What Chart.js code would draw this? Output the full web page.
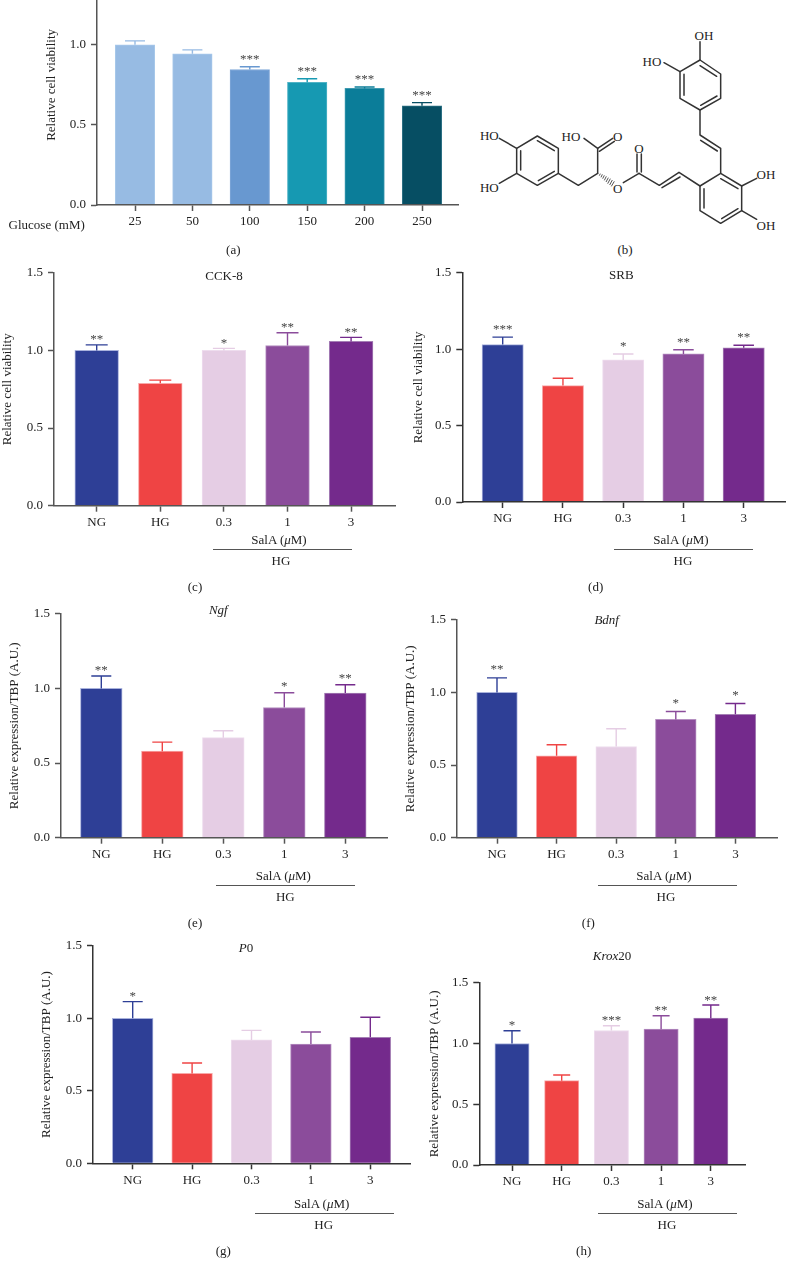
<!DOCTYPE html>
<html>
<head>
<meta charset="utf-8">
<script src="https://cdn.jsdelivr.net/npm/chart.js@4/dist/chart.umd.min.js"></script>
<style>
  html, body { margin: 0; padding: 0; background: #fff; }
  body { position: relative; width: 786px; height: 1269px; overflow: hidden; font-family: "Liberation Serif", serif; color: #222; }
  canvas { position: absolute; }
  .txt { position: absolute; transform: translate(-50%, -50%); font-size: 13px; white-space: nowrap; }
  .rule { position: absolute; height: 1.5px; background: #555; }
  svg { position: absolute; }
</style>
</head>
<body>

<!-- (b) structure -->
<svg style="left:460px;top:0" width="326" height="260" viewBox="0 0 978 780">
  <g fill="none" stroke="#333" stroke-width="4.5" stroke-linecap="round" stroke-linejoin="round">
    <path d="M720 180L782 222V295L720 330L660 295V215Z"/>
    <path d="M720 197L770 229M771 288L722 316M672 286V223"/>
    <path d="M720 180V125M660 215L612 188"/>
    <path d="M720 330V405L782 445V520"/>
    <path d="M722 421L772 453"/>
    <path d="M782 520L845 558V632L782 670L720 632V558Z"/>
    <path d="M782 536L834 566M834 626L785 656M732 624V566"/>
    <path d="M845 558L890 535M845 632L890 658"/>
    <path d="M720 558L657 517L598 556L537 520"/>
    <path d="M660 531L606 563"/>
    <path d="M531 516V462M544 516V462"/>
    <path d="M537 520L490 548"/>
    <path d="M413 520L355 556L295 520"/>
    <path d="M413 520V445L372 415"/>
    <path d="M413 445L458 415M418 454L463 424"/>
    <path d="M295 520V445L232 408L170 445V520L232 556Z"/>
    <path d="M232 422L283 452M283 514L235 542M182 510V452"/>
    <path d="M170 445L118 415M170 520L118 550"/>
  </g>
  <g stroke="#333" stroke-width="2.5">
    <path d="M421 521L418 527M427 523L423 532M433 526L428 536M439 529L433 541M445 533L438 546M451 536L443 551M457 540L449 555M463 544L454 559"/>
  </g>
  <g font-size="39" fill="#222" text-anchor="middle" dominant-baseline="central" font-family="Liberation Serif">
    <text x="732" y="105">OH</text>
    <text x="576" y="183">HO</text>
    <text x="918" y="523">OH</text>
    <text x="918" y="675">OH</text>
    <text x="537" y="445">O</text>
    <text x="473" y="565">O</text>
    <text x="333" y="408">HO</text>
    <text x="473" y="408">O</text>
    <text x="88" y="407">HO</text>
    <text x="88" y="562">HO</text>
  </g>
</svg>

<script>
// Chart values

const glucose = ['25', '50', '100', '150', '200', '250'];
const groups = ['NG', 'HG', '0.3', '1', '3'];

// value = bar height, upper = top of the error bar
const viabilityValues = [1.0, 0.944, 0.846, 0.766, 0.728, 0.62];
const viabilityUpper  = [1.025, 0.969, 0.863, 0.788, 0.737, 0.639];
const viabilityStars  = ['', '', '***', '***', '***', '***'];

const cckValues = [1.0, 0.788, 1.0, 1.032, 1.058];
const cckUpper  = [1.036, 0.809, 1.013, 1.114, 1.084];
const cckStars  = ['**', '', '*', '**', '**'];

const srbValues = [1.03, 0.762, 0.93, 0.969, 1.009];
const srbUpper  = [1.079, 0.81, 0.969, 0.996, 1.026];
const srbStars  = ['***', '', '*', '**', '**'];

const ngfValues = [1.0, 0.58, 0.67, 0.872, 0.969];
const ngfUpper  = [1.083, 0.64, 0.717, 0.971, 1.025];
const ngfStars  = ['**', '', '', '*', '**'];

const bdnfValues = [1.0, 0.564, 0.628, 0.814, 0.849];
const bdnfUpper  = [1.10, 0.64, 0.75, 0.869, 0.924];
const bdnfStars  = ['**', '', '', '*', '*'];

const p0Values = [1.0, 0.62, 0.851, 0.823, 0.869];
const p0Upper  = [1.115, 0.692, 0.917, 0.906, 1.007];
const p0Stars  = ['*', '', '', '', ''];

const kroxValues = [1.0, 0.694, 1.107, 1.118, 1.209];
const kroxUpper  = [1.105, 0.741, 1.146, 1.229, 1.317];
const kroxStars  = ['*', '', '***', '**', '**'];

const yTicks = [0, 0.5, 1.0, 1.5];

// Colours
const glucoseColors = ['#97bbe3', '#97bbe3', '#6898d0', '#1699b2', '#0b7d99', '#064e63'];
const glucoseEdges  = ['#a8c8ea', '#a8c8ea', '#80a8d8', '#4fb3c6', '#3f9ab0', '#2f7285'];
const groupColors   = ['#2e3f96', '#ef4444', '#e5cde4', '#8b4c9b', '#742a8c'];
const groupEdges    = ['#a9b2dc', '#f8a8a8', '#eeddee', '#b48ec0', '#a57fb5'];

Chart.defaults.font.family = '"Liberation Serif", serif';
Chart.defaults.font.size = 13;
Chart.defaults.color = '#222';

// Error bars and significance stars, placed through the chart's own scales
const errorBarPlugin = {
  id: 'errorBars',
  afterDatasetsDraw(chart, args, opts) {
    const { ctx, scales: { x, y } } = chart;
    ctx.save();
    opts.upper.forEach((top, i) => {
      const px = x.getPixelForValue(i);
      const yTop = y.getPixelForValue(top);
      const yBar = y.getPixelForValue(opts.values[i]);
      ctx.strokeStyle = opts.colors[i];
      ctx.lineWidth = 1.4;
      ctx.beginPath();
      ctx.moveTo(px, yBar);
      ctx.lineTo(px, yTop);
      ctx.moveTo(px - opts.capWidth / 2, yTop);
      ctx.lineTo(px + opts.capWidth / 2, yTop);
      ctx.stroke();
      if (opts.stars[i]) {
        ctx.fillStyle = '#444';
        ctx.font = '13px "Liberation Serif"';
        ctx.textAlign = 'center';
        ctx.textBaseline = 'alphabetic';
        ctx.fillText(opts.stars[i], px, yTop - 1.5 - opts.starLift);
      }
    });
    ctx.restore();
  },
};

// One bar panel. Geometry is in page pixels; the canvas sits on whole pixels so text stays sharp.
function barPanel(p) {
  const canvas = document.createElement('canvas');
  const canvasLeft = Math.floor(p.left - p.gutter);
  const canvasTop = Math.floor(p.y15 - 12);
  const gutter = p.left - canvasLeft;
  const padTop = p.y15 - canvasTop;
  const padRight = 4;
  const bottom = 40;
  const width = Math.ceil(gutter + (p.right - p.left) + padRight);
  const height = Math.ceil(padTop + (p.y0 - p.y15) + bottom);
  canvas.width = width;
  canvas.height = height;
  canvas.style.left = canvasLeft + 'px';
  canvas.style.top = canvasTop + 'px';
  canvas.style.width = width + 'px';
  canvas.style.height = height + 'px';
  document.body.appendChild(canvas);

  const axisColor = p.axisColor || '#555';

  new Chart(canvas, {
    type: 'bar',
    plugins: [errorBarPlugin],
    data: {
      datasets: [{
        data: p.values.map((v, i) => ({ x: i, y: v })),
        backgroundColor: p.colors,
        borderColor: p.edges,
        borderWidth: 1,
        barThickness: p.barWidth,
      }],
    },
    options: {
      responsive: false,
      animation: false,
      layout: {
        padding: {
          top: padTop,
          right: width - gutter - (p.right - p.left),
          left: 0,
          bottom: height - padTop - (p.y0 - p.y15) - bottom,
        },
      },
      plugins: {
        legend: { display: false },
        tooltip: { enabled: false },
        errorBars: {
          upper: p.upper,
          values: p.values,
          stars: p.stars,
          colors: p.colors,
          capWidth: p.capWidth,
          starLift: p.starLift || 0,
        },
      },
      scales: {
        x: {
          type: 'linear',
          offset: false,
          min: (p.left - p.center0) / p.step,
          max: (p.right - p.center0) / p.step,
          afterBuildTicks: (s) => { s.ticks = p.labels.map((_, i) => ({ value: i })); },
          afterFit: (s) => { s.height = bottom; },
          border: { color: axisColor, width: 1.5, z: 1 },
          grid: { offset: false, drawOnChartArea: false, drawTicks: true, tickLength: 6, tickColor: axisColor, tickWidth: 1.5 },
          ticks: {
            autoSkip: false,
            maxRotation: 0,
            padding: 3,
            color: '#222',
            callback: (v) => p.labels[v],
          },
        },
        y: {
          min: 0,
          max: 1.5,
          afterBuildTicks: (s) => { s.ticks = yTicks.map((v) => ({ value: v })); },
          afterFit: (s) => { s.width = gutter; },
          border: { color: axisColor, width: 1.5, z: 1 },
          grid: { drawOnChartArea: false, drawTicks: true, tickLength: 6, tickColor: axisColor, tickWidth: 1.5 },
          title: {
            display: true,
            text: p.yTitle,
            color: '#222',
            padding: 0,
            font: { size: 13 },
          },
          ticks: {
            padding: 5,
            color: '#222',
            callback: (v) => v.toFixed(1),
          },
        },
      },
    },
  });
}

function addText(html, x, y) {
  const el = document.createElement('div');
  el.className = 'txt';
  el.style.left = x + 'px';
  el.style.top = y + 'px';
  el.innerHTML = html;
  document.body.appendChild(el);
}

// "SalA (µM)" with the HG rule under it
function addGroupLabel(g) {
  addText('SalA (<i>&mu;</i>M)', g.salaX, g.ruleY - 10);
  addText('HG', g.salaX + 2, g.ruleY + 11);
  const rule = document.createElement('div');
  rule.className = 'rule';
  rule.style.left = g.ruleX1 + 'px';
  rule.style.top = (g.ruleY - 0.75) + 'px';
  rule.style.width = (g.ruleX2 - g.ruleX1) + 'px';
  document.body.appendChild(rule);
}

const cellTitle = 'Relative cell viability';
const exprTitle = 'Relative expression/TBP (A.U.)';

// (a)
barPanel({
  left: 97, right: 458, y0: 205, y15: -36, gutter: 53, starLift: 2,
  center0: 135, step: 57.4, barWidth: 39.5, capWidth: 20,
  labels: glucose, values: viabilityValues, upper: viabilityUpper, stars: viabilityStars,
  colors: glucoseColors, edges: glucoseEdges, yTitle: cellTitle,
});
addText('Glucose (mM)', 46.7, 225);
addText('(a)', 233.3, 250);
addText('(b)', 625, 250);

// (c)
barPanel({
  left: 54, right: 395.7, y0: 505.7, y15: 272, gutter: 54,
  center0: 96.7, step: 63.6, barWidth: 43.7, capWidth: 22,
  labels: groups, values: cckValues, upper: cckUpper, stars: cckStars,
  colors: groupColors, edges: groupEdges, yTitle: cellTitle,
});
addText('CCK-8', 224, 275.7);
addGroupLabel({ salaX: 279, ruleX1: 212.7, ruleX2: 352, ruleY: 549.7 });
addText('(c)', 195, 587);

// (d)
barPanel({
  left: 462.3, right: 786, y0: 502, y15: 272.7, gutter: 51, axisColor: '#333', starLift: 2.5,
  center0: 502.7, step: 60.25, barWidth: 41.3, capWidth: 20.5,
  labels: groups, values: srbValues, upper: srbUpper, stars: srbStars,
  colors: groupColors, edges: groupEdges, yTitle: cellTitle,
});
addText('SRB', 621.3, 275.3);
addGroupLabel({ salaX: 681, ruleX1: 614.3, ruleX2: 753.3, ruleY: 549.7 });
addText('(d)', 595.7, 587);

// (e)
barPanel({
  left: 61, right: 387.7, y0: 837.7, y15: 613.7, gutter: 54, starLift: 1,
  center0: 101.3, step: 61, barWidth: 41.7, capWidth: 20,
  labels: groups, values: ngfValues, upper: ngfUpper, stars: ngfStars,
  colors: groupColors, edges: groupEdges, yTitle: exprTitle,
});
addText('<i>Ngf</i>', 218.3, 610);
addGroupLabel({ salaX: 283.3, ruleX1: 216.3, ruleX2: 355.3, ruleY: 885.7 });
addText('(e)', 195, 923.3);

// (f)
barPanel({
  left: 457, right: 777.3, y0: 837.7, y15: 619, gutter: 54, starLift: 3,
  center0: 497, step: 59.6, barWidth: 40.7, capWidth: 20,
  labels: groups, values: bdnfValues, upper: bdnfUpper, stars: bdnfStars,
  colors: groupColors, edges: groupEdges, yTitle: exprTitle,
});
addText('<i>Bdnf</i>', 606.7, 620);
addGroupLabel({ salaX: 664, ruleX1: 597.7, ruleX2: 736.7, ruleY: 885.7 });
addText('(f)', 588.3, 922.7);

// (g)
barPanel({
  left: 93, right: 410, y0: 1163.3, y15: 945, gutter: 54, axisColor: '#333',
  center0: 132.7, step: 59.4, barWidth: 40.7, capWidth: 20,
  labels: groups, values: p0Values, upper: p0Upper, stars: p0Stars,
  colors: groupColors, edges: groupEdges, yTitle: exprTitle,
});
addText('<i>P</i>0', 246, 947.7);
addGroupLabel({ salaX: 321.7, ruleX1: 255, ruleX2: 394, ruleY: 1213.7 });
addText('(g)', 223.3, 1251);

// (h)
barPanel({
  left: 479.3, right: 745.3, y0: 1165, y15: 982.3, gutter: 52, axisColor: '#333',
  center0: 512, step: 49.7, barWidth: 34.3, capWidth: 17,
  labels: groups, values: kroxValues, upper: kroxUpper, stars: kroxStars,
  colors: groupColors, edges: groupEdges, yTitle: exprTitle,
});
addText('<i>Krox</i>20', 612, 956);
addGroupLabel({ salaX: 665, ruleX1: 598.3, ruleX2: 737.3, ruleY: 1213.7 });
addText('(h)', 583.7, 1250.7);
</script>
</body>
</html>
